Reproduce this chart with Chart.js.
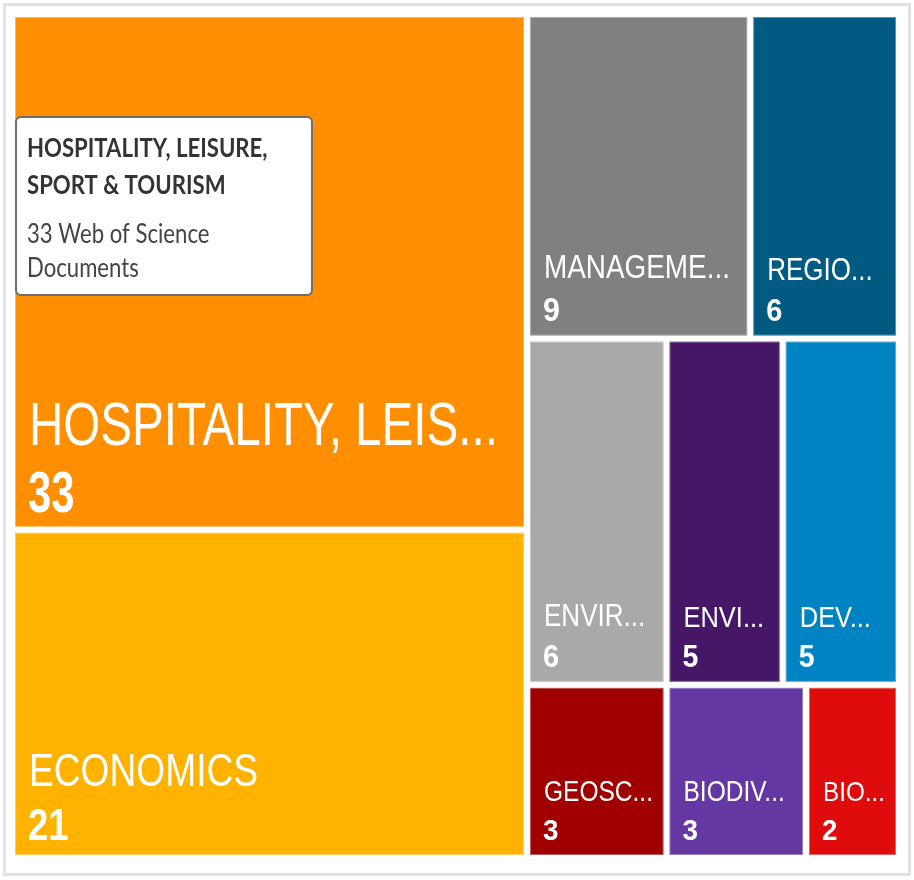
<!DOCTYPE html>
<html>
<head>
<meta charset="utf-8">
<title>Web of Science Categories</title>
<script src="https://cdn.jsdelivr.net/npm/chart.js@4.4.1/dist/chart.umd.min.js"></script>
<style>
    html, body { margin: 0; padding: 0; background: #fff; }
    #frame {
        position: absolute;
        left: 3px;
        top: 3px;
        width: 902px;
        height: 867px;
        border: 3px solid #e2e2e2;
        background: #fff;
    }
    canvas { display: block; }
</style>
</head>
<body>
<div id="frame"><canvas id="treemap"></canvas></div>
<script>
// Web of Science categories and their document counts
const categories = [
    'HOSPITALITY, LEISURE, SPORT & TOURISM',
    'ECONOMICS',
    'MANAGEMENT',
    'REGIONAL & URBAN PLANNING',
    'ENVIRONMENTAL STUDIES',
    'ENVIRONMENTAL SCIENCES',
    'DEVELOPMENT STUDIES',
    'GEOSCIENCES, MULTIDISCIPLINARY',
    'BIODIVERSITY CONSERVATION',
    'BIOLOGY'
];
const documentCounts = [33, 21, 9, 6, 6, 5, 5, 3, 3, 2];
const cellColors = ['#ff8f00', '#ffb300', '#808080', '#005a82', '#a9a9a9',
                    '#461766', '#0083c3', '#a00000', '#6437a3', '#de0c0c'];
const hoveredIndex = 0; // the cell whose tooltip is open

const GAP = 6;          // white space between cells
const MAX_RATIO = 3.2;  // a strip keeps taking cells while none gets thinner than this
const PAD = 14;
// [smallest cell, biggest cell]; big type is set tighter
const LABEL_FONT = [28.5, 61];
const LABEL_SQUEEZE = [0.85, 0.78];
const COUNT_FONT = [30, 58];
const COUNT_SQUEEZE = [0.92, 0.72];
const TOOLTIP_SQUEEZE = 0.82;
const CELL_FONT = '"Liberation Sans", Arial, sans-serif';

// Aspect ratio of a box of dx * dy (value units), k = pixel width / pixel height
function ratio(dx, dy, k) {
    return Math.max(dx * k / dy, dy / (dx * k));
}

// Strip layout: the biggest categories go in a column on the left,
// the rest are stacked in rows on the right. Returns boxes in 0..1 units.
function layoutCells(values, k) {
    const cells = [];
    let remaining = values.reduce((a, b) => a + b, 0);
    let x0 = 0, y0 = 0, i = 0;

    while (i < values.length) {
        const column = i === 0;
        const w = 1 - x0, h = 1 - y0;

        const worst = (from, to) => {
            const s = values.slice(from, to).reduce((a, b) => a + b, 0);
            return Math.max(...values.slice(from, to).map(v => column
                ? ratio(w * s / remaining, h * v / s, k)
                : ratio(w * v / s, h * s / remaining, k)));
        };

        let j = i + 1;
        while (j < values.length && worst(i, j + 1) <= MAX_RATIO) j++;

        const s = values.slice(i, j).reduce((a, b) => a + b, 0);
        let pos = column ? y0 : x0;
        for (let n = i; n < j; n++) {
            if (column) {
                const dy = h * values[n] / s;
                cells.push({ x0: x0, x1: x0 + w * s / remaining, y0: pos, y1: pos + dy });
                pos += dy;
            } else {
                const dx = w * values[n] / s;
                cells.push({ x0: pos, x1: pos + dx, y0: y0, y1: y0 + h * s / remaining });
                pos += dx;
            }
        }
        if (column) x0 += w * s / remaining; else y0 += h * s / remaining;
        remaining -= s;
        i = j;
    }
    return cells;
}

function lerp(range, t) {
    return range[0] + t * (range[1] - range[0]);
}

function textWidth(ctx, text, squeeze) {
    return ctx.measureText(text).width * squeeze;
}

function fillNarrow(ctx, text, x, y, squeeze) {
    ctx.save();
    ctx.translate(x, y);
    ctx.scale(squeeze, 1);
    ctx.fillText(text, 0, 0);
    ctx.restore();
}

function fitLabel(ctx, text, maxWidth, squeeze) {
    if (textWidth(ctx, text, squeeze) <= maxWidth) return text;
    let cut = text.length;
    while (cut > 1 && textWidth(ctx, text.slice(0, cut).trimEnd() + '...', squeeze) > maxWidth) cut--;
    return text.slice(0, cut).trimEnd() + '...';
}

function wrapText(ctx, text, maxWidth, squeeze) {
    const lines = [];
    let line = '';
    text.split(' ').forEach(word => {
        const test = line ? line + ' ' + word : word;
        if (line && textWidth(ctx, test, squeeze) > maxWidth) {
            lines.push(line);
            line = word;
        } else {
            line = test;
        }
    });
    if (line) lines.push(line);
    return lines;
}

const treemapPlugin = {
    id: 'treemap',
    beforeDatasetsDraw(chart, args, opts) {
        const { ctx, chartArea, scales: { x, y } } = chart;
        const cells = layoutCells(opts.values, chartArea.width / chartArea.height);
        const minV = Math.min(...opts.values), maxV = Math.max(...opts.values);
        chart.$cells = [];

        cells.forEach((c, i) => {
            const left = x.getPixelForValue(c.x0) + GAP / 2;
            const right = x.getPixelForValue(c.x1) - GAP / 2;
            const top = y.getPixelForValue(c.y0) + GAP / 2;
            const bottom = y.getPixelForValue(c.y1) - GAP / 2;
            chart.$cells.push({ left, right, top, bottom });

            ctx.save();
            ctx.fillStyle = opts.colors[i];
            ctx.fillRect(left, top, right - left, bottom - top);
            ctx.strokeStyle = 'rgba(255, 255, 255, 0.35)';
            ctx.lineWidth = 1;
            ctx.strokeRect(left + 0.5, top + 0.5, right - left - 1, bottom - top - 1);

            // type grows with the count
            const t = Math.pow((opts.values[i] - minV) / (maxV - minV), 1.3);
            const labelSize = lerp(LABEL_FONT, t), labelSqueeze = lerp(LABEL_SQUEEZE, t);
            const countSize = lerp(COUNT_FONT, t), countSqueeze = lerp(COUNT_SQUEEZE, t);
            const countY = bottom - 15;

            ctx.fillStyle = '#fff';
            ctx.textBaseline = 'alphabetic';
            ctx.font = `400 ${labelSize}px ${CELL_FONT}`;
            const label = fitLabel(ctx, opts.labels[i], right - left - PAD - 9, labelSqueeze);
            fillNarrow(ctx, label, left + PAD, countY - countSize - 9, labelSqueeze);
            ctx.font = `700 ${countSize}px ${CELL_FONT}`;
            fillNarrow(ctx, String(opts.values[i]), left + PAD - 1, countY, countSqueeze);
            ctx.restore();
        });
    },
    afterDraw(chart, args, opts) {
        const cell = chart.$cells && chart.$cells[opts.hovered];
        if (!cell) return;
        const { ctx } = chart;
        const boxX = cell.left + 1, boxY = cell.top + 100, boxW = 296, pad = 11;

        ctx.save();
        ctx.font = '700 27px Lato';
        const titleLines = wrapText(ctx, opts.labels[opts.hovered], boxW - 2 * pad, TOOLTIP_SQUEEZE);
        ctx.font = '400 27px Lato';
        const bodyLines = wrapText(ctx, `${opts.values[opts.hovered]} Web of Science Documents`, boxW - 2 * pad, TOOLTIP_SQUEEZE);
        const boxH = 40 + (titleLines.length - 1) * 37 + 49 + (bodyLines.length - 1) * 34 + 18;

        ctx.beginPath();
        ctx.roundRect(boxX, boxY, boxW, boxH, 5);
        ctx.fillStyle = '#fff';
        ctx.fill();
        ctx.strokeStyle = '#6e6e6e';
        ctx.lineWidth = 2;
        ctx.stroke();

        let lineY = boxY + 40;
        ctx.font = '700 27px Lato';
        ctx.fillStyle = '#333';
        titleLines.forEach((line, n) => {
            fillNarrow(ctx, line, boxX + pad, lineY, TOOLTIP_SQUEEZE);
            if (n < titleLines.length - 1) lineY += 37;
        });
        lineY += 49;
        ctx.font = '400 27px Lato';
        ctx.fillStyle = '#444';
        bodyLines.forEach(line => {
            fillNarrow(ctx, line, boxX + pad, lineY, TOOLTIP_SQUEEZE);
            lineY += 34;
        });
        ctx.restore();
    }
};

new Chart(document.getElementById('treemap'), {
    type: 'scatter',
    data: {
        datasets: [{ label: 'Web of Science Documents', data: [] }]
    },
    options: {
        responsive: true,
        maintainAspectRatio: false,
        animation: false,
        layout: { padding: { left: 6, top: 8, right: 9, bottom: 15 } },
        scales: {
            x: { type: 'linear', min: 0, max: 1, display: false },
            y: { type: 'linear', min: 0, max: 1, reverse: true, display: false }
        },
        plugins: {
            legend: { display: false },
            tooltip: { enabled: false },
            treemap: {
                labels: categories,
                values: documentCounts,
                colors: cellColors,
                hovered: hoveredIndex
            }
        }
    },
    plugins: [treemapPlugin]
});
</script>
</body>
</html>
